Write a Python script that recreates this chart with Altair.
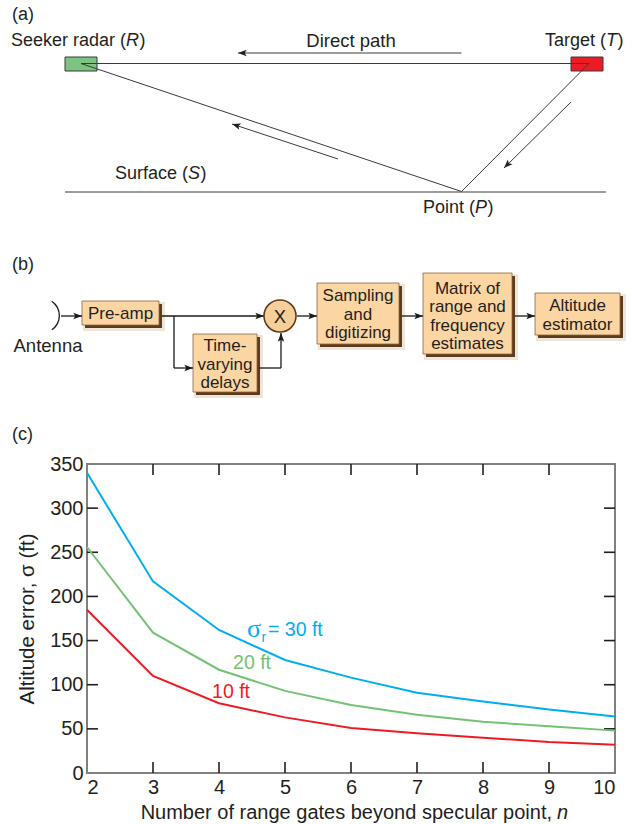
import altair as alt
import pandas as pd

# ---------------- panel (c): altitude error vs. number of range gates ----------------
n_gates = [2, 3, 4, 5, 6, 7, 8, 9, 10]
sigma_30 = [340, 217, 162, 128, 108, 91, 81, 72, 64]
sigma_20 = [256, 159, 117, 93, 77, 66, 58, 53, 48]
sigma_10 = [185, 110, 79, 63, 51, 45, 40, 35, 32]
series_names = ["30 ft", "20 ft", "10 ft"]
series_colors = ["#00aeef", "#74c274", "#ed1c24"]
x_ticks = [2, 3, 4, 5, 6, 7, 8, 9, 10]
y_ticks = [0, 50, 100, 150, 200, 250, 300, 350]

# ---------------- panel (a): geometry diagram (page pixel units) ----------------
a_box_x1 = [65, 571]
a_box_x2 = [97, 603]
a_box_y1 = [57, 57]
a_box_y2 = [71, 71]
a_box_fill = ["#7cc47f", "#ed1c24"]

a_seg_x1 = [81, 81, 589, 65, 238, 232, 504]
a_seg_y1 = [63.5, 63.5, 63.5, 192, 53, 124, 168]
a_seg_x2 = [589, 461.5, 461.5, 606, 461.5, 338, 571]
a_seg_y2 = [63.5, 191.5, 191.5, 192, 53, 159, 102]

a_head_x = [238, 232, 504]
a_head_y = [53, 124, 168]
a_head_ang = [180, 198, 135]

# ---------------- panel (b): block diagram (page pixel units) ----------------
b_box_x1 = [82, 193, 317, 423, 535]
b_box_x2 = [159, 257, 399, 512, 620]
b_box_y1 = [301, 334, 283, 273, 293]
b_box_y2 = [325, 392, 344, 354, 335]

b_text = ["Pre-amp", "Time-", "varying", "delays", "Sampling", "and", "digitizing",
          "Matrix of", "range and", "frequency", "estimates", "Altitude", "estimator"]
b_text_x = [120.5, 225, 225, 225, 358, 358, 358, 467.5, 467.5, 467.5, 467.5, 577.5, 577.5]
b_text_y = [314, 346, 364.5, 383, 296, 314.5, 333, 288.5, 307, 325.5, 344, 306, 324.5]

b_seg_x1 = [61, 162, 174, 174, 259, 281, 297, 402, 515]
b_seg_y1 = [316, 316, 316, 368, 368, 368, 316, 316, 316]
b_seg_x2 = [82, 264, 174, 193, 281, 281, 317, 423, 535]
b_seg_y2 = [316, 316, 368, 368, 368, 333, 316, 316, 316]

b_head_x = [82, 264, 193, 281, 317, 423, 535]
b_head_y = [316, 316, 368, 333, 316, 316, 316]
b_head_ang = [0, 0, 0, 270, 0, 0, 0]

# ---------------- labels (page pixel units) ----------------
lab_left = ["(a)", ")", ")", ")", ")", "(b)", "(c)"]
lab_left_x = [12, 139.5, 617.5, 200.5, 487.5, 12, 12]
lab_left_y = [15, 41, 41, 174, 208, 265, 435]

lab_right = ["Seeker radar (", "Target (", "Surface (", "Point ("]
lab_right_x = [126, 606, 188, 475]
lab_right_y = [41, 41, 174, 208]

lab_italic = ["R", "T", "S", "P"]
lab_italic_x = [126, 606, 188, 475]
lab_italic_y = [41, 41, 174, 208]

lab_center = ["Direct path", "Antenna", "X"]
lab_center_x = [351, 48, 280]
lab_center_y = [41, 346, 317]

FONT = "Liberation Sans"
INK = "#231f20"
W, H = 528, 309

# diagram scales: data units == page pixels (plot area sits at x 87..615, y 464..773)
xd = alt.Scale(domain=[87, 615], nice=False, zero=False)
yd = alt.Scale(domain=[464, 773], reverse=True, nice=False, zero=False)


def DX(f):
    return alt.X(f"{f}:Q", scale=xd, axis=None)


def DY(f):
    return alt.Y(f"{f}:Q", scale=yd, axis=None)


ARROW = "M0,0L-1,-0.38L-0.78,0L-1,0.38Z"

# page bounds (invisible) so the whole figure maps 1:1 onto the page
bounds = alt.Chart(pd.DataFrame({"x": [0], "x2": [632], "y": [0], "y2": [824]})).mark_rect(
    fill="white", fillOpacity=0, strokeOpacity=0
).encode(x=DX("x"), x2="x2:Q", y=DY("y"), y2="y2:Q")

a_boxes = alt.Chart(pd.DataFrame({"x": a_box_x1, "x2": a_box_x2, "y": a_box_y1, "y2": a_box_y2,
                                  "f": a_box_fill})).mark_rect(stroke="#3a3a3a", strokeWidth=1).encode(
    x=DX("x"), x2="x2:Q", y=DY("y"), y2="y2:Q", fill=alt.Fill("f:N", scale=None))

a_lines = alt.Chart(pd.DataFrame({"x": a_seg_x1, "y": a_seg_y1, "x2": a_seg_x2, "y2": a_seg_y2})).mark_rule(
    color="#3a3a3a", strokeWidth=1).encode(x=DX("x"), y=DY("y"), x2="x2:Q", y2="y2:Q")

a_heads = alt.Chart(pd.DataFrame({"x": a_head_x, "y": a_head_y, "a": a_head_ang})).mark_point(
    shape=ARROW, filled=True, size=300, color="#222222", opacity=1, strokeWidth=0).encode(
    x=DX("x"), y=DY("y"), angle=alt.Angle("a:Q", scale=None))

b_box_df = pd.DataFrame({"x": b_box_x1, "x2": b_box_x2, "y": b_box_y1, "y2": b_box_y2})
b_halo = alt.Chart(b_box_df).transform_calculate(
    sx="datum.x + 1", sx2="datum.x2 + 6", sy="datum.y + 1", sy2="datum.y2 + 6"
).mark_rect(color="#d9c7b0", opacity=0.45).encode(x=DX("sx"), x2="sx2:Q", y=DY("sy"), y2="sy2:Q")
b_shadow = alt.Chart(b_box_df).transform_calculate(
    sx="datum.x + 3", sx2="datum.x2 + 3", sy="datum.y + 3", sy2="datum.y2 + 3"
).mark_rect(color="#5e3b1c").encode(x=DX("sx"), x2="sx2:Q", y=DY("sy"), y2="sy2:Q")
b_boxes = alt.Chart(b_box_df).mark_rect(fill="#fbd6a3", stroke="#8a6440", strokeWidth=0.8).encode(
    x=DX("x"), x2="x2:Q", y=DY("y"), y2="y2:Q")

b_lines = alt.Chart(pd.DataFrame({"x": b_seg_x1, "y": b_seg_y1, "x2": b_seg_x2, "y2": b_seg_y2})).mark_rule(
    color="#1a1a1a", strokeWidth=1.3).encode(x=DX("x"), y=DY("y"), x2="x2:Q", y2="y2:Q")

b_heads = alt.Chart(pd.DataFrame({"x": b_head_x, "y": b_head_y, "a": b_head_ang})).mark_point(
    shape=ARROW, filled=True, size=300, color="#1a1a1a", opacity=1, strokeWidth=0).encode(
    x=DX("x"), y=DY("y"), angle=alt.Angle("a:Q", scale=None))

b_circle = alt.Chart(pd.DataFrame({"x": [280], "y": [316]})).mark_point(
    shape="circle", size=1024, filled=True, fill="#f6cf98", stroke="#5e3b1c", strokeWidth=1.6, opacity=1
).encode(x=DX("x"), y=DY("y"))

antenna = alt.Chart(pd.DataFrame({"x": [42], "y": [315.5]})).mark_arc(
    radius=18, radius2=16.7, theta=0.6, theta2=2.54, color="#1a1a1a"
).encode(x=DX("x"), y=DY("y"))

b_texts = alt.Chart(pd.DataFrame({"x": b_text_x, "y": b_text_y, "t": b_text})).mark_text(
    font=FONT, fontSize=17, color=INK, align="center", baseline="middle").encode(
    x=DX("x"), y=DY("y"), text="t:N")

t_left = alt.Chart(pd.DataFrame({"x": lab_left_x, "y": lab_left_y, "t": lab_left})).mark_text(
    font=FONT, fontSize=18, color=INK, align="left", baseline="middle").encode(
    x=DX("x"), y=DY("y"), text="t:N")
t_right = alt.Chart(pd.DataFrame({"x": lab_right_x, "y": lab_right_y, "t": lab_right})).mark_text(
    font=FONT, fontSize=18, color=INK, align="right", baseline="middle").encode(
    x=DX("x"), y=DY("y"), text="t:N")
t_italic = alt.Chart(pd.DataFrame({"x": lab_italic_x, "y": lab_italic_y, "t": lab_italic})).mark_text(
    font=FONT, fontSize=18, fontStyle="italic", color=INK, align="left", baseline="middle").encode(
    x=DX("x"), y=DY("y"), text="t:N")
t_center = alt.Chart(pd.DataFrame({"x": lab_center_x, "y": lab_center_y, "t": lab_center})).mark_text(
    font=FONT, fontSize=18.5, color=INK, align="center", baseline="middle").encode(
    x=DX("x"), y=DY("y"), text="t:N")

# x-axis title with italic n
xt_main = alt.Chart(pd.DataFrame({"x": [552], "y": [813], "t": ["Number of range gates beyond specular point,"]})).mark_text(
    font=FONT, fontSize=20, color=INK, align="right", baseline="middle").encode(x=DX("x"), y=DY("y"), text="t:N")
xt_n = alt.Chart(pd.DataFrame({"x": [557], "y": [813], "t": ["n"]})).mark_text(
    font=FONT, fontSize=20, fontStyle="italic", color=INK, align="left", baseline="middle").encode(
    x=DX("x"), y=DY("y"), text="t:N")

# curve labels
lbl_sigma = alt.Chart(pd.DataFrame({"x": [247], "y": [629], "t": ["σ"]})).mark_text(
    font="Liberation Serif", fontSize=26, color=series_colors[0], align="left", baseline="middle").encode(
    x=DX("x"), y=DY("y"), text="t:N")
lbl_sub = alt.Chart(pd.DataFrame({"x": [261.5], "y": [638], "t": ["r"]})).mark_text(
    font=FONT, fontSize=14, color=series_colors[0], align="left", baseline="middle").encode(
    x=DX("x"), y=DY("y"), text="t:N")
lbl_30 = alt.Chart(pd.DataFrame({"x": [268], "y": [630], "t": ["= 30 ft"]})).mark_text(
    font=FONT, fontSize=19.5, color=series_colors[0], align="left", baseline="middle").encode(
    x=DX("x"), y=DY("y"), text="t:N")
lbl_20 = alt.Chart(pd.DataFrame({"x": [252], "y": [663], "t": ["20 ft"]})).mark_text(
    font=FONT, fontSize=19.5, color=series_colors[1], align="center", baseline="middle").encode(
    x=DX("x"), y=DY("y"), text="t:N")
lbl_10 = alt.Chart(pd.DataFrame({"x": [231], "y": [692], "t": ["10 ft"]})).mark_text(
    font=FONT, fontSize=19.5, color=series_colors[2], align="center", baseline="middle").encode(
    x=DX("x"), y=DY("y"), text="t:N")

diagram = alt.layer(
    bounds, a_boxes, a_lines, a_heads,
    b_halo, b_shadow, b_boxes, b_lines, b_heads, b_circle, antenna, b_texts,
    t_left, t_right, t_italic, t_center, xt_main, xt_n,
    lbl_sigma, lbl_sub, lbl_30, lbl_20, lbl_10,
)

# ---------------- plot layers ----------------
xs = alt.Scale(domain=[2, 10], nice=False, zero=False)
ys = alt.Scale(domain=[0, 350], nice=False, zero=False)
x_axis = alt.Axis(values=x_ticks, orient="bottom", title=None, ticks=False, domain=False, grid=False,
                  labelFont=FONT, labelFontSize=20, labelColor=INK, labelPadding=4, format="d")
y_axis = alt.Axis(values=y_ticks, orient="left", title="Altitude error, σ (ft)", ticks=False, domain=False,
                  grid=False, labelFont=FONT, labelFontSize=20, labelColor=INK, labelPadding=4, format="d",
                  titleFont=FONT, titleFontSize=20.5, titleFontWeight="normal", titleColor=INK, titlePadding=12)

rows = []
for name, vals in zip(series_names, [sigma_30, sigma_20, sigma_10]):
    for n, v in zip(n_gates, vals):
        rows.append({"n": n, "err": v, "series": name})
df_curves = pd.DataFrame(rows)

curves = alt.Chart(df_curves).mark_line(strokeWidth=2).encode(
    x=alt.X("n:Q", scale=xs, axis=x_axis),
    y=alt.Y("err:Q", scale=ys, axis=y_axis),
    color=alt.Color("series:N", scale=alt.Scale(domain=series_names, range=series_colors), legend=None),
)

df_xt = pd.DataFrame({"n": x_ticks[1:-1]})
df_yt = pd.DataFrame({"err": y_ticks[1:-1]})
tick_style = dict(color=INK, strokeWidth=1.6)
tick_bottom = alt.Chart(df_xt).mark_rule(**tick_style).encode(
    x=alt.X("n:Q", scale=xs, axis=x_axis), y=alt.value(H), y2=alt.value(H - 11))
tick_top = alt.Chart(df_xt).mark_rule(**tick_style).encode(
    x=alt.X("n:Q", scale=xs, axis=x_axis), y=alt.value(0), y2=alt.value(11))
tick_left = alt.Chart(df_yt).mark_rule(**tick_style).encode(
    y=alt.Y("err:Q", scale=ys, axis=y_axis), x=alt.value(0), x2=alt.value(11))
tick_right = alt.Chart(df_yt).mark_rule(**tick_style).encode(
    y=alt.Y("err:Q", scale=ys, axis=y_axis), x=alt.value(W), x2=alt.value(W - 11))

plot = alt.layer(tick_bottom, tick_top, tick_left, tick_right, curves)

chart = alt.layer(diagram, plot).resolve_scale(x="independent", y="independent").properties(
    width=W, height=H, padding=0, background="white"
).configure_view(stroke="#808080", strokeWidth=2)

chart.save("out.html", embed_options={"renderer": "svg", "actions": False})
